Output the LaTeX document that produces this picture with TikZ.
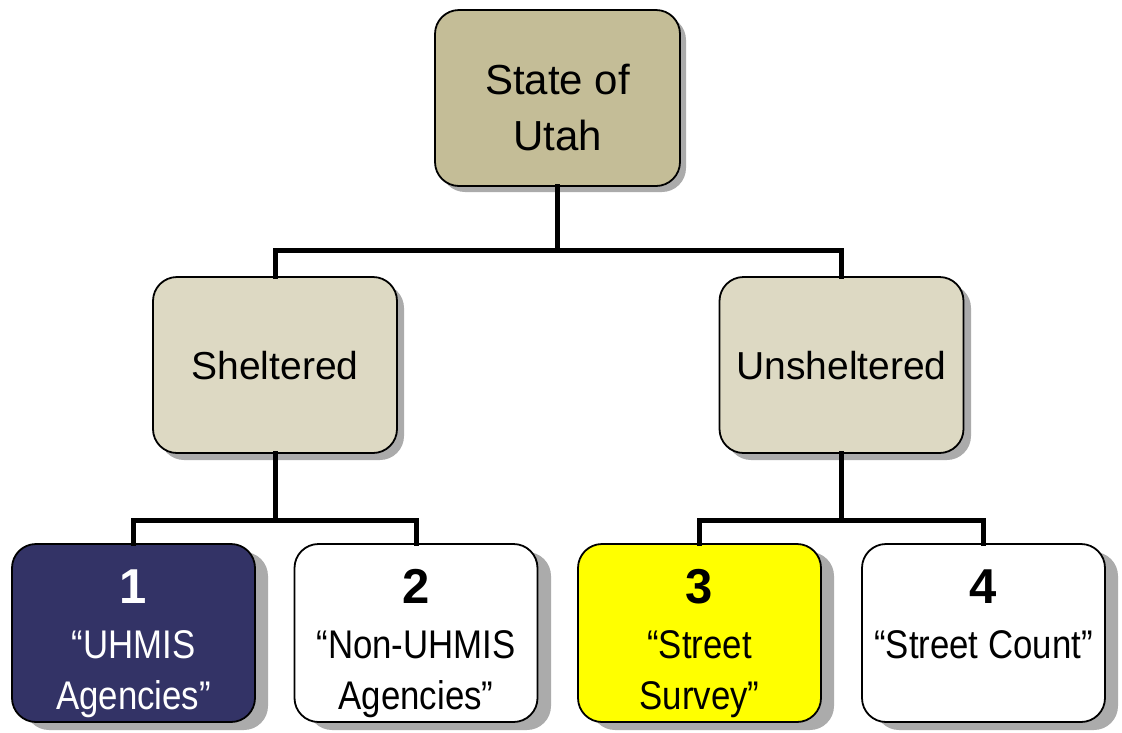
\documentclass[tikz,border=0pt]{standalone}
\usepackage{fontspec}
\usepackage{graphicx}
\setmainfont{Liberation Sans}
\definecolor{tanTop}{HTML}{C4BD97}
\definecolor{tanMid}{HTML}{DDD9C3}
\definecolor{navy}{HTML}{333366}
\definecolor{yel}{HTML}{FFFF00}
\definecolor{shade}{HTML}{ABABAB}
\newcommand\sqz[1]{\scalebox{0.87}[1]{#1}}
\begin{document}
\begin{tikzpicture}[x=1pt,y=-1pt,
  box/.style={draw=black, line width=1.8pt, rounded corners=24pt, inner sep=0pt,
              minimum width=244pt, minimum height=176pt},
  topbox/.style={box, fill=tanTop, minimum width=245pt, minimum height=176pt},
  midbox/.style={box, fill=tanMid},
  botbox/.style={box, minimum height=178pt, minimum width=243pt},
  shad/.style={fill=shade, rounded corners=24pt, draw=none},
  conn/.style={line width=5pt, line cap=rect},
  toptxt/.style={anchor=base, inner sep=0pt, font=\fontsize{42}{42}\selectfont},
  midtxt/.style={anchor=base, inner sep=0pt, font=\fontsize{39}{39}\selectfont},
  numtxt/.style={anchor=base, inner sep=0pt, font=\fontsize{49}{49}\selectfont\bfseries},
  bottxt/.style={anchor=base, inner sep=0pt, font=\fontsize{40}{40}\selectfont}
]
\useasboundingbox (0,0) rectangle (1122,732);

% shadows
\fill[shad] (441,16) rectangle (686,192);
\fill[shad] (160,284) rectangle (404,460);
\fill[shad] (727,284) rectangle (971,460);
\fill[shad] (25,552) rectangle (268,730);
\fill[shad] (308,552) rectangle (551,730);
\fill[shad] (591,552) rectangle (834,730);
\fill[shad] (875,552) rectangle (1118,730);

% junction points
\coordinate (jTop) at (557.5,250);
\coordinate (jL) at (275,520);
\coordinate (jR) at (841.5,520);

% boxes
\node[topbox] (utah) at (557.5,98) {};
\node[midbox] (shel) at (275,365) {};
\node[midbox] (unsh) at (841.5,365) {};
\node[botbox, fill=navy] (b1) at (133.5,633) {};
\node[botbox, fill=white] (b2) at (416,633) {};
\node[botbox, fill=yel] (b3) at (699.5,633) {};
\node[botbox, fill=white] (b4) at (983.5,633) {};

% connectors
\draw[conn] (utah.south) -- (jTop);
\draw[conn] (shel.north) |- (jTop) -| (unsh.north);
\draw[conn] (shel.south) -- (jL);
\draw[conn] (b1.north) |- (jL) -| (b2.north);
\draw[conn] (unsh.south) -- (jR);
\draw[conn] (b3.north) |- (jR) -| (b4.north);

% texts
\node[toptxt] (t1) at (557.5,94) {State of};
\node[toptxt] (t2) at (557.5,150) {Utah};
\node[midtxt] (ts) at (275,379) {Sheltered};
\node[midtxt] (tu) at (841.5,379) {Unsheltered};

\node[numtxt, text=white] (n1) at (133.5,603) {1};
\node[bottxt, text=white] (a1) at (133.5,658) {\sqz{“UHMIS}};
\node[bottxt, text=white] (c1) at (133.5,709) {\sqz{Agencies”}};

\node[numtxt] (n2) at (416,603) {2};
\node[bottxt] (a2) at (416,658) {\sqz{“Non-UHMIS}};
\node[bottxt] (c2) at (416,709) {\sqz{Agencies”}};

\node[numtxt] (n3) at (699.5,603) {3};
\node[bottxt] (a3) at (699.5,658) {\sqz{“Street}};
\node[bottxt] (c3) at (699.5,709) {\sqz{Survey”}};

\node[numtxt] (n4) at (983.5,603) {4};
\node[bottxt] (a4) at (983.5,658) {\sqz{“Street Count”}};
\end{tikzpicture}
\end{document}
